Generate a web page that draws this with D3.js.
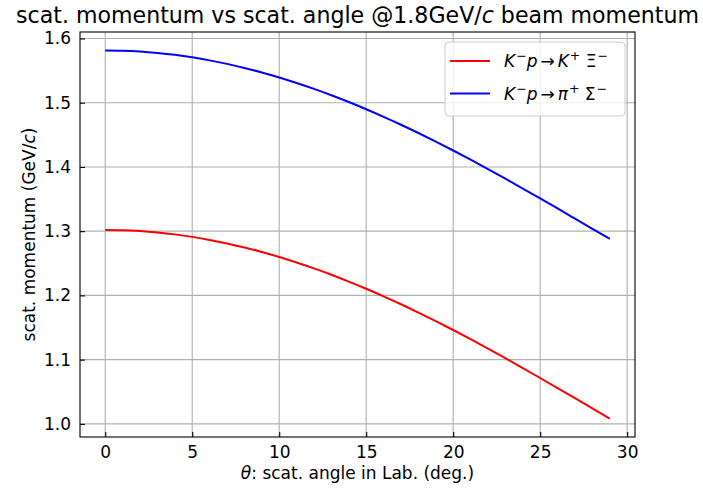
<!DOCTYPE html>
<html>
<head>
<meta charset="utf-8">
<script src="https://cdn.jsdelivr.net/npm/d3@7"></script>
<style>
  html, body { margin: 0; padding: 0; background: #fff; }
  svg text { font-family: "DejaVu Sans", sans-serif; fill: #000; }
</style>
</head>
<body>
<svg id="chart" width="703" height="489"></svg>
<script>
// Lab scattering angle (deg.)
const angles = d3.range(0, 30);

// Scattered momentum (GeV/c), K- p -> K+ Xi-
const momKXi = [
  1.3019, 1.3015, 1.3002, 1.2980, 1.2950, 1.2911, 1.2864, 1.2809, 1.2746, 1.2676,
  1.2598, 1.2512, 1.2420, 1.2321, 1.2215, 1.2103, 1.1985, 1.1862, 1.1733, 1.1599,
  1.1461, 1.1318, 1.1172, 1.1022, 1.0869, 1.0714, 1.0557, 1.0399, 1.0240, 1.0082
];

// Scattered momentum (GeV/c), K- p -> pi+ Sigma-
const momPiSigma = [
  1.5814, 1.5810, 1.5797, 1.5775, 1.5745, 1.5706, 1.5659, 1.5604, 1.5541, 1.5471,
  1.5393, 1.5307, 1.5215, 1.5116, 1.5010, 1.4898, 1.4780, 1.4657, 1.4528, 1.4394,
  1.4256, 1.4113, 1.3967, 1.3817, 1.3664, 1.3509, 1.3353, 1.3195, 1.3037, 1.2880
];

const xTicks = [0, 5, 10, 15, 20, 25, 30];
const yTicks = [1.0, 1.1, 1.2, 1.3, 1.4, 1.5, 1.6];

const svg = d3.select("#chart");
const plot = { left: 80, right: 635, top: 32, bottom: 437 };

// axis limits padded 5% around the data, as in matplotlib
const xExt = d3.extent(angles);
const xPad = (xExt[1] - xExt[0]) * 0.05;
const allY = momKXi.concat(momPiSigma);
const yExt = d3.extent(allY);
const yPad = (yExt[1] - yExt[0]) * 0.05;

const x = d3.scaleLinear().domain([xExt[0] - xPad, xExt[1] + xPad]).range([plot.left, plot.right]);
const y = d3.scaleLinear().domain([yExt[0] - yPad, yExt[1] + yPad]).range([plot.bottom, plot.top]);

// grid
const grid = svg.append("g").attr("stroke", "#b0b0b0").attr("stroke-width", 1.1);
grid.selectAll("line.gx").data(xTicks).join("line")
  .attr("x1", d => x(d)).attr("x2", d => x(d))
  .attr("y1", plot.top).attr("y2", plot.bottom);
grid.selectAll("line.gy").data(yTicks).join("line")
  .attr("x1", plot.left).attr("x2", plot.right)
  .attr("y1", d => y(d)).attr("y2", d => y(d));

// series
const line = d3.line().x((d, i) => x(angles[i])).y(d => y(d)).curve(d3.curveNatural);
svg.append("path").datum(momKXi).attr("d", line)
  .attr("fill", "none").attr("stroke", "#ff0000").attr("stroke-width", 2);
svg.append("path").datum(momPiSigma).attr("d", line)
  .attr("fill", "none").attr("stroke", "#0000ff").attr("stroke-width", 2);

// axes with inward ticks
const xAxis = d3.axisBottom(x).tickValues(xTicks).tickFormat(d3.format("d"))
  .tickSizeInner(-5).tickSizeOuter(0).tickPadding(9);
const yAxis = d3.axisLeft(y).tickValues(yTicks).tickFormat(d3.format(".1f"))
  .tickSizeInner(-5).tickSizeOuter(0).tickPadding(9);

const gx = svg.append("g").attr("transform", `translate(0,${plot.bottom})`).call(xAxis);
const gy = svg.append("g").attr("transform", `translate(${plot.left},0)`).call(yAxis);
[gx, gy].forEach(g => {
  g.select(".domain").remove();
  g.selectAll(".tick line").attr("stroke", "#000").attr("stroke-width", 1.1);
  g.selectAll(".tick text").attr("font-size", 17).attr("fill", "#262626")
    .attr("font-family", "DejaVu Sans");
});

// frame
svg.append("rect")
  .attr("x", plot.left).attr("y", plot.top)
  .attr("width", plot.right - plot.left).attr("height", plot.bottom - plot.top)
  .attr("fill", "none").attr("stroke", "#000").attr("stroke-width", 1.1);

// title
svg.append("text")
  .attr("x", (plot.left + plot.right) / 2).attr("y", 23)
  .attr("text-anchor", "middle").attr("font-size", 22.1)
  .call(t => {
    t.append("tspan").text("scat. momentum vs scat. angle @1.8GeV/");
    t.append("tspan").attr("font-style", "italic").text("c");
    t.append("tspan").text(" beam momentum");
  });

// axis labels
svg.append("text")
  .attr("x", (plot.left + plot.right) / 2).attr("y", 479)
  .attr("text-anchor", "middle").attr("font-size", 17)
  .call(t => {
    t.append("tspan").attr("font-style", "italic").text("θ");
    t.append("tspan").text(": scat. angle in Lab. (deg.)");
  });

svg.append("text")
  .attr("transform", `translate(35,${(plot.top + plot.bottom) / 2}) rotate(-90)`)
  .attr("text-anchor", "middle").attr("font-size", 17)
  .call(t => {
    t.append("tspan").text("scat. momentum (GeV/");
    t.append("tspan").attr("font-style", "italic").text("c");
    t.append("tspan").text(")");
  });

// legend: reaction labels built from italic symbols, superscript charges and an arrow
const legendItems = [
  { color: "#ff0000", parts: [["K", "i"], ["−", "sup"], ["p", "i"], ["→", "op"], ["K", "i"], ["+", "sup"], [" Ξ", ""], ["−", "sup"]] },
  { color: "#0000ff", parts: [["K", "i"], ["−", "sup"], ["p", "i"], ["→", "op"], ["π", "i"], ["+", "sup"], [" Σ", ""], ["−", "sup"]] }
];
const lg = svg.append("g");
lg.append("rect")
  .attr("x", 445).attr("y", 42).attr("width", 180).attr("height", 74)
  .attr("rx", 4).attr("fill", "#fff").attr("fill-opacity", 0.8)
  .attr("stroke", "#cccccc").attr("stroke-width", 1);
legendItems.forEach((item, i) => {
  const cy = 61 + i * 32.6;
  lg.append("line")
    .attr("x1", 450).attr("x2", 490).attr("y1", cy).attr("y2", cy)
    .attr("stroke", item.color).attr("stroke-width", 2);
  const t = lg.append("text").attr("x", 504).attr("y", cy + 6).attr("font-size", 17);
  let raised = false;
  let afterOp = false;
  item.parts.forEach(([s, k]) => {
    const ts = t.append("tspan").text(s);
    if (k === "i") ts.attr("font-style", "italic");
    if (k === "sup") {
      ts.attr("font-size", 12.5).attr("dy", -7).attr("dx", 1);
      raised = true;
    } else {
      if (raised) { ts.attr("dy", 7); raised = false; }
      if (k === "op") ts.attr("dx", 3);
      if (afterOp) ts.attr("dx", 3);
    }
    afterOp = (k === "op");
  });
});
</script>
</body>
</html>
